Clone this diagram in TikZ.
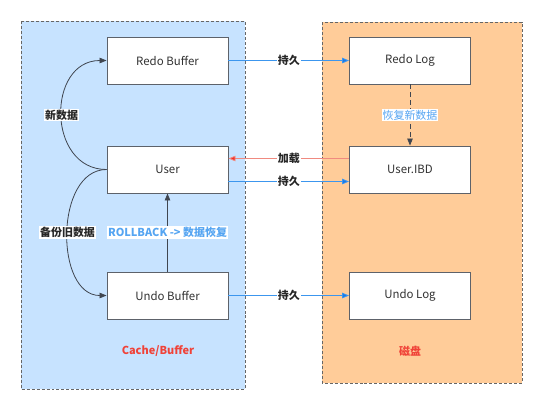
\documentclass[tikz,border=0pt]{standalone}
\usepackage{fontspec}
\setmainfont{Noto Sans CJK SC}
\usetikzlibrary{arrows.meta}
\definecolor{cbg}{HTML}{C7E3FF}
\definecolor{dbg}{HTML}{FFCC99}
\definecolor{lblue}{HTML}{3C96EE}
\definecolor{hblue}{HTML}{1878E8}
\definecolor{tblue}{HTML}{55A5F2}
\definecolor{lred}{HTML}{F08A80}
\definecolor{hred}{HTML}{F0302A}
\definecolor{tred}{HTML}{F04238}
\definecolor{dk}{HTML}{404650}
\tikzset{
  box/.style={draw=dk!85, line width=0.9bp, fill=white, minimum width=121bp, minimum height=47bp, inner sep=0pt, font=\fontsize{11.5}{13}\selectfont, text=black!80},
  cont/.style={draw=black!60, densely dashed, line width=0.8bp},
  lab/.style={fill=white, inner sep=1pt, font=\fontsize{11}{12}\selectfont\bfseries, text=black!85},
  blab/.style={fill=white, inner sep=1pt, font=\fontsize{11}{12}\selectfont\bfseries, text=tblue},
  persist/.style={draw=lblue, line width=0.8bp, -{Triangle[length=7bp,width=5.5bp,fill=hblue]}},
  darr/.style={draw=dk, line width=0.8bp, -{Triangle[length=7bp,width=5.5bp]}},
}
\begin{document}
\begin{tikzpicture}[x=1bp,y=-1bp]
\useasboundingbox (0,0) rectangle (540,409);
\fill[white] (0,0) rectangle (540,409);
\draw[cont, fill=cbg] (21,21) rectangle (245,389);
\draw[cont, fill=dbg] (322,22) rectangle (522,383);

\node[box] (rb) at (167.5,60.5) {Redo Buffer};
\node[box] (us) at (167.5,169.5) {User};
\node[box] (ub) at (167.5,295.5) {Undo Buffer};
\node[box] (rl) at (410,60.5) {Redo Log};
\node[box] (ui) at (410,169.5) {User.IBD};
\node[box] (ul) at (410,295.5) {Undo Log};

\node[font=\fontsize{11}{12}\selectfont\bfseries, text=tred] (cb) at (158,351) {Cache/Buffer};
\node[font=\fontsize{11}{12}\selectfont\bfseries, text=tred] (cp) at (410,351) {磁盘};

% persist arrows
\draw[persist] (rb.east) -- node[lab]{持久} (rl.west);
\draw[persist] ([yshift=-12bp]us.east) -- node[lab]{持久} ([yshift=-12bp]ui.west);
\draw[persist] (ub.east) -- node[lab]{持久} (ul.west);
% load
\draw[draw=lred, line width=0.8bp, -{Triangle[length=7bp,width=5.5bp,fill=hred]}] ([yshift=11bp]ui.west) -- node[lab]{加载} ([yshift=11bp]us.east);

% redo log -> user.ibd
\draw[darr, dash pattern=on 5bp off 3bp] (rl.south) -- node[blab, font=\fontsize{11}{12}\selectfont]{恢复新数据} (ui.north);

% rollback
\draw[darr] (ub.north) -- node[blab, pos=0.5]{ROLLBACK -> 数据恢复} (us.south);

% curves
\draw[darr] (us.west) .. controls +(-60,0) and +(-60,0) .. node[lab, pos=0.5]{新数据} (rb.west);
\draw[darr] (us.west) .. controls +(-52,0) and +(-52,0) .. node[lab, pos=0.5]{备份旧数据} (ub.west);
\end{tikzpicture}
\end{document}
